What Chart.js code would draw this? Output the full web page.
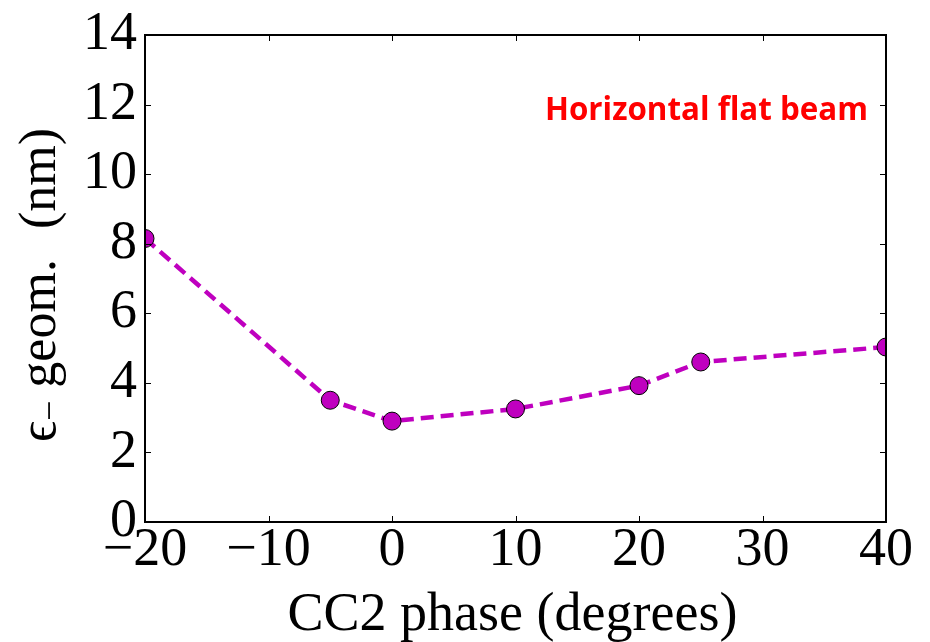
<!DOCTYPE html>
<html>
<head>
<meta charset="utf-8">
<script src="https://cdn.jsdelivr.net/npm/chart.js@4.4.0/dist/chart.umd.min.js"></script>
<style>
  html, body { margin: 0; padding: 0; background: #fff; }
  #wrap { width: 930px; height: 642px; }
</style>
</head>
<body>
<div id="wrap"><canvas id="emitChart" width="930" height="642"></canvas></div>
<script>
// CC2 phase scan, horizontal flat beam
var PHASE   = [-20, -5, 0, 10, 20, 25, 40];
var EMIT    = [8.15, 3.5, 2.9, 3.25, 3.92, 4.6, 5.03];
var X_TICKS = [-20, -10, 0, 10, 20, 30, 40];
var Y_TICKS = [0, 2, 4, 6, 8, 10, 12, 14];
var NOTE    = 'Horizontal flat beam';
var X_TITLE = 'CC2 phase (degrees)';
var Y_TITLE = ['\u03f5', '\u2212', ' geom.', '(nm)'];   // epsilon, subscript minus, words

var MAG   = '#bf00bf';
var SERIF = '"Liberation Serif", "DejaVu Serif", serif';

function fmt(v) {
  return v < 0 ? '\u2212' + Math.abs(v) : String(v);
}

// frame, inward ticks on all four sides, titles and the note
var framePlugin = {
  id: 'frame',
  afterDraw: function (chart) {
    var ctx = chart.ctx, a = chart.chartArea;
    var xs = chart.scales.x, ys = chart.scales.y;
    var tl = 6;
    ctx.save();
    ctx.strokeStyle = '#000';
    ctx.lineWidth = 1;
    ctx.beginPath();
    X_TICKS.forEach(function (v) {
      var px = Math.round(xs.getPixelForValue(v)) + 0.5;
      ctx.moveTo(px, a.bottom); ctx.lineTo(px, a.bottom - tl);
      ctx.moveTo(px, a.top);    ctx.lineTo(px, a.top + tl);
    });
    Y_TICKS.forEach(function (v) {
      var py = Math.round(ys.getPixelForValue(v)) + 0.5;
      ctx.moveTo(a.left, py);  ctx.lineTo(a.left + tl, py);
      ctx.moveTo(a.right, py); ctx.lineTo(a.right - tl, py);
    });
    ctx.stroke();
    ctx.lineWidth = 2;
    ctx.strokeRect(a.left, a.top, a.right - a.left, a.bottom - a.top);

    // x title
    ctx.fillStyle = '#000';
    ctx.font = '54px ' + SERIF;
    ctx.textAlign = 'center';
    ctx.textBaseline = 'alphabetic';
    ctx.fillText(X_TITLE, (a.left + a.right) / 2 - 3, 630);

    // y title, rotated, with a subscript minus and a wide gap before the unit
    ctx.save();
    ctx.translate(55, a.bottom - 80);
    ctx.rotate(-Math.PI / 2);
    ctx.textAlign = 'left';
    var x = 0;
    ctx.font = '52px ' + SERIF;
    ctx.fillText(Y_TITLE[0], x, 0);
    x += ctx.measureText(Y_TITLE[0]).width;
    ctx.font = '36px ' + SERIF;
    ctx.fillText(Y_TITLE[1], x, 6);
    x += ctx.measureText(Y_TITLE[1]).width;
    ctx.font = '52px ' + SERIF;
    ctx.fillText(Y_TITLE[2], x, 0);
    x += ctx.measureText(Y_TITLE[2]).width + 30;
    ctx.fillText(Y_TITLE[3], x, 0);
    ctx.restore();

    // red note, squeezed to a fixed width
    ctx.font = 'bold 32px "Open Sans", sans-serif';
    var w = ctx.measureText(NOTE).width;
    ctx.save();
    ctx.translate(a.right - 18, a.top + 85);
    ctx.scale(323 / w, 1);
    ctx.textAlign = 'right';
    ctx.fillStyle = '#ff0000';
    ctx.fillText(NOTE, 0, 0);
    ctx.restore();

    ctx.restore();
  }
};

var points = PHASE.map(function (p, i) { return { x: p, y: EMIT[i] }; });

new Chart(document.getElementById('emitChart').getContext('2d'), {
  type: 'scatter',
  data: {
    datasets: [{
      data: points,
      showLine: true,
      borderColor: MAG,
      borderWidth: 4.5,
      borderDash: [13, 7],
      fill: false,
      tension: 0,
      pointRadius: 9,
      pointHoverRadius: 9,
      pointBackgroundColor: MAG,
      pointBorderColor: '#000',
      pointBorderWidth: 1,
      clip: 0
    }]
  },
  options: {
    responsive: false,
    animation: false,
    events: [],
    layout: { padding: { top: 33, right: 44, left: 0, bottom: 0 } },
    plugins: { legend: { display: false }, tooltip: { enabled: false } },
    scales: {
      x: {
        type: 'linear',
        min: -20, max: 40,
        afterBuildTicks: function (s) { s.ticks = X_TICKS.map(function (v) { return { value: v }; }); },
        afterFit: function (s) { s.height = 642 - 522; },
        grid: { display: false, drawTicks: false },
        border: { display: false },
        ticks: {
          autoSkip: false, maxRotation: 0,
          color: '#000', padding: 2,
          font: { family: SERIF, size: 54, lineHeight: 1 },
          callback: fmt
        }
      },
      y: {
        type: 'linear',
        min: 0, max: 14,
        afterBuildTicks: function (s) { s.ticks = Y_TICKS.map(function (v) { return { value: v }; }); },
        afterFit: function (s) { s.width = 145; },
        grid: { display: false, drawTicks: false },
        border: { display: false },
        ticks: {
          color: '#000', padding: 8,
          font: { family: SERIF, size: 54, lineHeight: 1 },
          callback: fmt
        }
      }
    }
  },
  plugins: [framePlugin]
});
</script>
</body>
</html>
